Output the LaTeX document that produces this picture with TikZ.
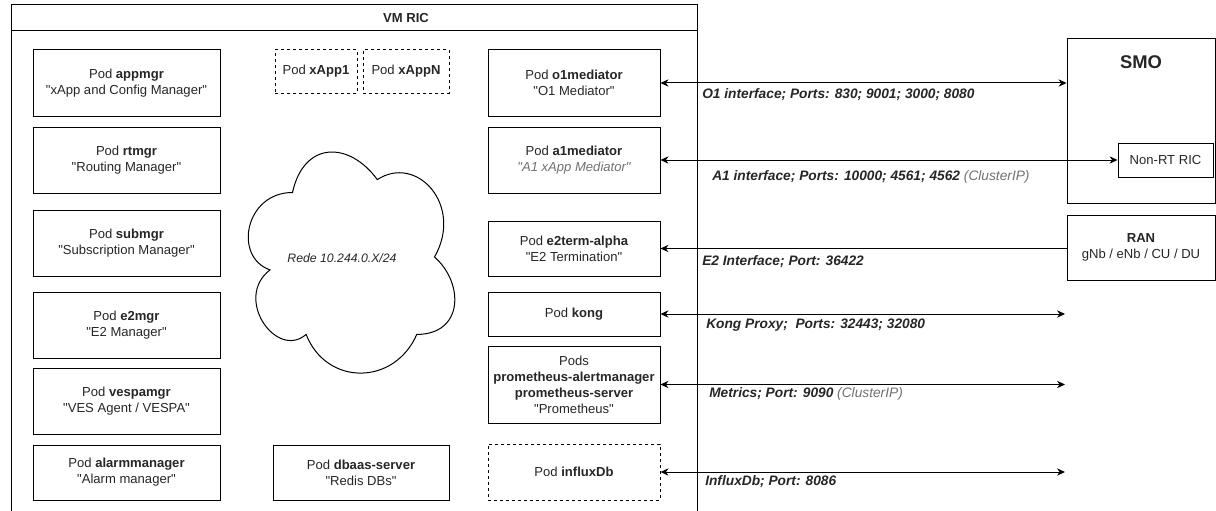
\documentclass[tikz,border=0pt]{standalone}
\usepackage{fontspec}
\setmainfont{Liberation Sans}[Ligatures=TeXOff]
\usetikzlibrary{arrows.meta}
\definecolor{labelgray}{RGB}{112,112,112}

\begin{document}
\begin{tikzpicture}[x=0.75pt,y=0.75pt,yscale=-1,xscale=1,
		pod/.style={draw, line width=0.75, align=center, inner sep=1pt, text=black!85, font=\fontsize{9.8}{12}\selectfont, minimum width=140.25pt, minimum height=49.5pt},
		midpod/.style={pod, minimum width=129pt},
		optpod/.style={dash pattern=on 2.25pt off 2.25pt},
		iface/.style={anchor=west, inner sep=0pt, text=black!85, font=\fontsize{10.3}{12}\selectfont\bfseries\itshape},
		both/.style={line width=0.75, {Stealth[length=6pt,width=5.5pt]}-{Stealth[length=6pt,width=5.5pt]}},
		inward/.style={line width=0.75, {Stealth[length=6pt,width=5.5pt]}-}]
				\useasboundingbox (0,0) rectangle (1216,510);
				\clip (0,0) rectangle (1216,510);
				
				% Shape: VM frame
				\draw [line width=0.75] (11,5) rectangle (697,520);
				\draw [line width=0.75] (11,31) -- (697,31);
				% Text Node
				\node [text=black!85, font=\fontsize{9.8}{12}\selectfont\bfseries] (vmric) at (406,18) {VM RIC};
				
				% Text Node
				\node [pod] (appmgr) at (126.5,83) {Pod \textbf{appmgr}\\"xApp and Config Manager"};
				% Text Node
				\node [pod] (rtmgr) at (126.5,160) {Pod \textbf{rtmgr}\\"Routing Manager"};
				% Text Node
				\node [pod] (submgr) at (126.5,243) {Pod \textbf{submgr}\\"Subscription Manager"};
				% Text Node
				\node [pod] (e2mgr) at (126.5,325) {Pod \textbf{e2mgr}\\"E2 Manager"};
				% Text Node
				\node [pod] (vespamgr) at (126.5,401) {Pod \textbf{vespamgr}\\"VES Agent / VESPA"};
				% Text Node
				\node [pod, minimum height=41.25pt] (alarmmgr) at (126.5,472.5) {Pod \textbf{alarmmanager}\\"Alarm manager"};
				
				% Text Node
				\node [pod, optpod, minimum width=61.5pt, minimum height=32.25pt] (xapp1) at (316,71.5) {Pod \textbf{xApp1}};
				% Text Node
				\node [pod, optpod, minimum width=64.5pt, minimum height=32.25pt] (xappn) at (406,71.5) {Pod \textbf{xAppN}};
				
				% Shape: Cloud
				\draw [line width=0.75] (292.5,192.5) .. controls (245,192.5) and (233,257) .. (270,269.9)
				.. controls (233,298.3) and (276.7,360.2) .. (306.1,334.4)
				.. controls (326.4,386) and (394.2,386) .. (416.8,334.4)
				.. controls (464,334.4) and (464,282.8) .. (434.5,257)
				.. controls (464,205.4) and (416.8,153.8) .. (377.3,179.6)
				.. controls (349,140.9) and (303.8,140.9) .. (292.5,192.5) -- cycle;
				% Text Node
				\node [text=black!85, font=\fontsize{9.2}{11}\selectfont\itshape] (rede) at (342,258) {Rede 10.244.0.X/24};
				
				% Text Node
				\node [pod, minimum width=132pt, minimum height=41.25pt] (dbaas) at (361,472.5) {Pod \textbf{dbaas-server}\\"Redis DBs"};
				
				% Text Node
				\node [midpod] (o1med) at (574,83) {Pod \textbf{o1mediator}\\"O1 Mediator"};
				% Text Node
				\node [midpod] (a1med) at (574,160) {Pod \textbf{a1mediator}\\{\itshape\color{labelgray}"A1 xApp Mediator"}};
				% Text Node
				\node [midpod, minimum height=41.25pt] (e2term) at (574,248.5) {Pod \textbf{e2term-alpha}\\"E2 Termination"};
				% Text Node
				\node [midpod, minimum height=33pt] (kong) at (574,314) {Pod \textbf{kong}};
				% Text Node
				\node [midpod, minimum height=57.75pt] (prom) at (574,384.5) {Pods\\\textbf{prometheus-alertmanager}\\\textbf{prometheus-server}\\"Prometheus"};
				% Text Node
				\node [midpod, optpod, minimum height=42pt] (influx) at (574,472) {Pod \textbf{influxDb}};
				
				% Text Node
				\node [pod, minimum width=111pt, minimum height=123pt] (smo) at (1141,121) {};
				\node [text=black!85, font=\fontsize{13.8}{16}\selectfont\bfseries] (smotitle) at (1141,62) {SMO};
				% Text Node
				\node [pod, minimum width=71.25pt, minimum height=25.5pt] (nonrt) at (1165.5,160) {Non-RT RIC};
				% Text Node
				\node [pod, minimum width=111pt, minimum height=48.75pt] (ran) at (1141,247.5) {\textbf{RAN}\\gNb / eNb / CU / DU};
				
				% Connection
				\coordinate (rim) at (1065,0);
				\draw [both] (o1med.east) -- (o1med.east -| smo.west);
				% Connection
				\draw [both] (a1med.east) -- (nonrt.west);
				% Connection
				\draw [inward] (e2term.east) -- (e2term.east -| ran.west);
				% Connection
				\draw [both] (kong.east) -- (kong.east -| rim);
				% Connection
				\draw [both] (prom.east) -- (prom.east -| rim);
				% Connection
				\draw [both] (influx.east) -- (influx.east -| rim);
				
				% Text Node
				\node [iface] (o1lbl) at (702,95) {O1 interface; Ports: 830; 9001; 3000; 8080};
				% Text Node
				\node [iface] (a1lbl) at (712,177) {A1 interface; Ports: 10000; 4561; 4562 {\mdseries\color{labelgray}(ClusterIP)}};
				% Text Node
				\node [iface] (e2lbl) at (702,262) {E2 Interface; Port: 36422};
				% Text Node
				\node [iface] (konglbl) at (706,325) {Kong Proxy;~~Ports: 32443; 32080};
				% Text Node
				\node [iface] (metlbl) at (709,394) {Metrics; Port: 9090 {\mdseries\color{labelgray}(ClusterIP)}};
				% Text Node
				\node [iface] (inflbl) at (705,482) {InfluxDb; Port: 8086};
				
\end{tikzpicture}
\end{document}
